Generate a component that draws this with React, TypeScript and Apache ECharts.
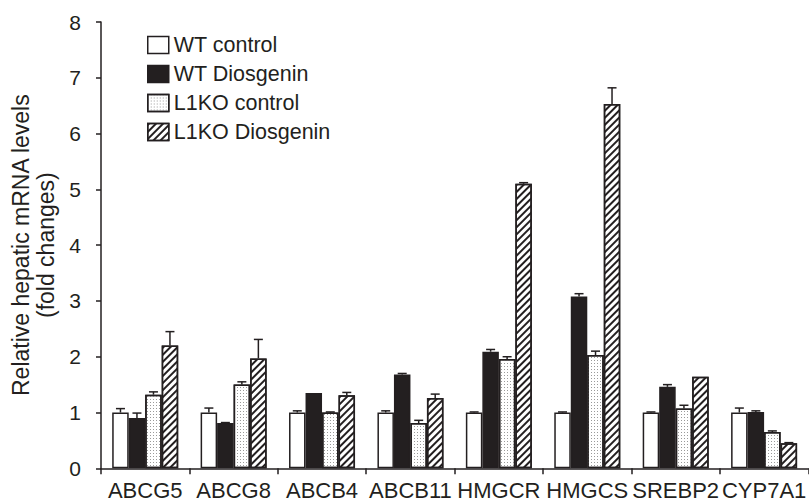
import React, { useEffect, useRef } from 'react';
import * as echarts from 'echarts';

const categories = ['ABCG5', 'ABCG8', 'ABCB4', 'ABCB11', 'HMGCR', 'HMGCS', 'SREBP2', 'CYP7A1'];
const seriesNames = ['WT control', 'WT Diosgenin', 'L1KO control', 'L1KO Diosgenin'];

const wtControl = [1.0, 1.0, 1.0, 1.0, 1.0, 1.0, 1.0, 1.0];
const wtDiosgenin = [0.9, 0.81, 1.35, 1.68, 2.09, 3.08, 1.46, 1.01];
const koControl = [1.32, 1.5, 1.0, 0.81, 1.96, 2.03, 1.07, 0.65];
const koDiosgenin = [2.2, 1.97, 1.31, 1.26, 5.1, 6.53, 1.64, 0.45];

const wtControlErr = [0.07, 0.08, 0.03, 0.03, 0.01, 0.01, 0.01, 0.08];
const wtDiosgeninErr = [0.09, 0.01, 0, 0.02, 0.04, 0.05, 0.04, 0.02];
const koControlErr = [0.05, 0.05, 0.01, 0.05, 0.04, 0.07, 0.06, 0.02];
const koDiosgeninErr = [0.25, 0.34, 0.05, 0.07, 0.02, 0.29, 0, 0.01];

const yTicks = { min: 0, max: 8, interval: 1 };

export default function App() {
  const ref = useRef<HTMLDivElement>(null);
  useEffect(() => {
    const chart = echarts.init(ref.current!, null, { renderer: 'svg' });
    const values = [wtControl, wtDiosgenin, koControl, koDiosgenin];
    const errors = [wtControlErr, wtDiosgeninErr, koControlErr, koDiosgeninErr];
    const BAR_W = 16.5;
    const font = 'Liberation Sans, Arial, Helvetica, sans-serif';
    const ink = '#231f20';
    const styles: any[] = [
      { color: '#ffffff', borderColor: ink, borderWidth: 1.5 },
      { color: ink, borderColor: ink, borderWidth: 1.5 },
      {
        color: '#ffffff', borderColor: ink, borderWidth: 1.5,
        decal: {
          symbol: 'rect', symbolSize: 1, dashArrayX: [1, 2], dashArrayY: [1, 2],
          color: '#9a9a9a', backgroundColor: '#ffffff',
        },
      },
      {
        color: '#ffffff', borderColor: ink, borderWidth: 1.5,
        decal: {
          symbol: 'rect', symbolSize: 1, dashArrayX: [1, 0], dashArrayY: [2, 2.2],
          rotation: -Math.PI / 4, color: ink, backgroundColor: '#ffffff',
        },
      },
    ];
    const barSeries = seriesNames.map((name, i) => ({
      type: 'bar',
      name,
      data: values[i],
      barWidth: BAR_W,
      barGap: '0%',
      itemStyle: styles[i],
      z: 2,
    }));
    const errSeries = seriesNames.map((name, i) => ({
      type: 'custom',
      name: name + ' error',
      silent: true,
      z: 3,
      encode: { x: 0, y: [1, 2] },
      data: categories.map((c, j) => [j, values[i][j], values[i][j] + errors[i][j]]),
      renderItem: (params: any, api: any) => {
        const j = api.value(0);
        const v = api.value(1);
        const hi = api.value(2);
        if (hi - v < 0.005) return { type: 'group', children: [] };
        const p0 = api.coord([j, v]);
        const p1 = api.coord([j, hi]);
        const x = p0[0] + (i - 1.5) * BAR_W;
        return {
          type: 'group',
          children: [
            { type: 'line', shape: { x1: x, y1: p0[1], x2: x, y2: p1[1] }, style: { stroke: ink, lineWidth: 1.5 } },
            { type: 'line', shape: { x1: x - 4.5, y1: p1[1], x2: x + 4.5, y2: p1[1] }, style: { stroke: ink, lineWidth: 1.5 } },
          ],
        };
      },
    }));
    chart.setOption({
      animation: false,
      backgroundColor: '#ffffff',
      textStyle: { fontFamily: font, color: ink },
      grid: { left: 101, top: 22, width: 712, height: 446.3, containLabel: false },
      legend: {
        data: seriesNames,
        orient: 'vertical',
        icon: 'rect',
        left: 142,
        top: 29,
        itemWidth: 21,
        itemHeight: 17,
        itemGap: 7,
        selectedMode: false,
        textStyle: { fontSize: 21.5, fontFamily: font, color: ink, padding: [0, 0, 0, 0] },
        itemStyle: { borderColor: ink, borderWidth: 1.5 },
      },
      xAxis: {
        type: 'category',
        data: categories,
        axisLine: { lineStyle: { color: ink, width: 1.5 } },
        axisTick: { show: true, length: 6, lineStyle: { color: ink, width: 1.5 } },
        axisLabel: { fontSize: 22, color: ink, fontFamily: font, margin: 11, interval: 0 },
      },
      yAxis: {
        type: 'value',
        min: yTicks.min,
        max: yTicks.max,
        interval: yTicks.interval,
        splitLine: { show: false },
        axisLine: { show: true, lineStyle: { color: ink, width: 1.5 } },
        axisTick: { show: true, length: 5, lineStyle: { color: ink, width: 1.5 } },
        axisLabel: { fontSize: 21, color: ink, fontFamily: font, margin: 20 },
        name: 'Relative hepatic mRNA levels\n(fold changes)',
        nameLocation: 'middle',
        nameRotate: 90,
        nameGap: 30,
        nameTextStyle: { fontSize: 23, lineHeight: 25, color: ink, fontFamily: font },
      },
      series: [...barSeries, ...errSeries],
    });
    return () => chart.dispose();
  }, []);
  return (
    <div
      ref={ref}
      style={{ position: 'fixed', left: 0, top: 0, width: 809, height: 504, background: '#fff' }}
    />
  );
}
